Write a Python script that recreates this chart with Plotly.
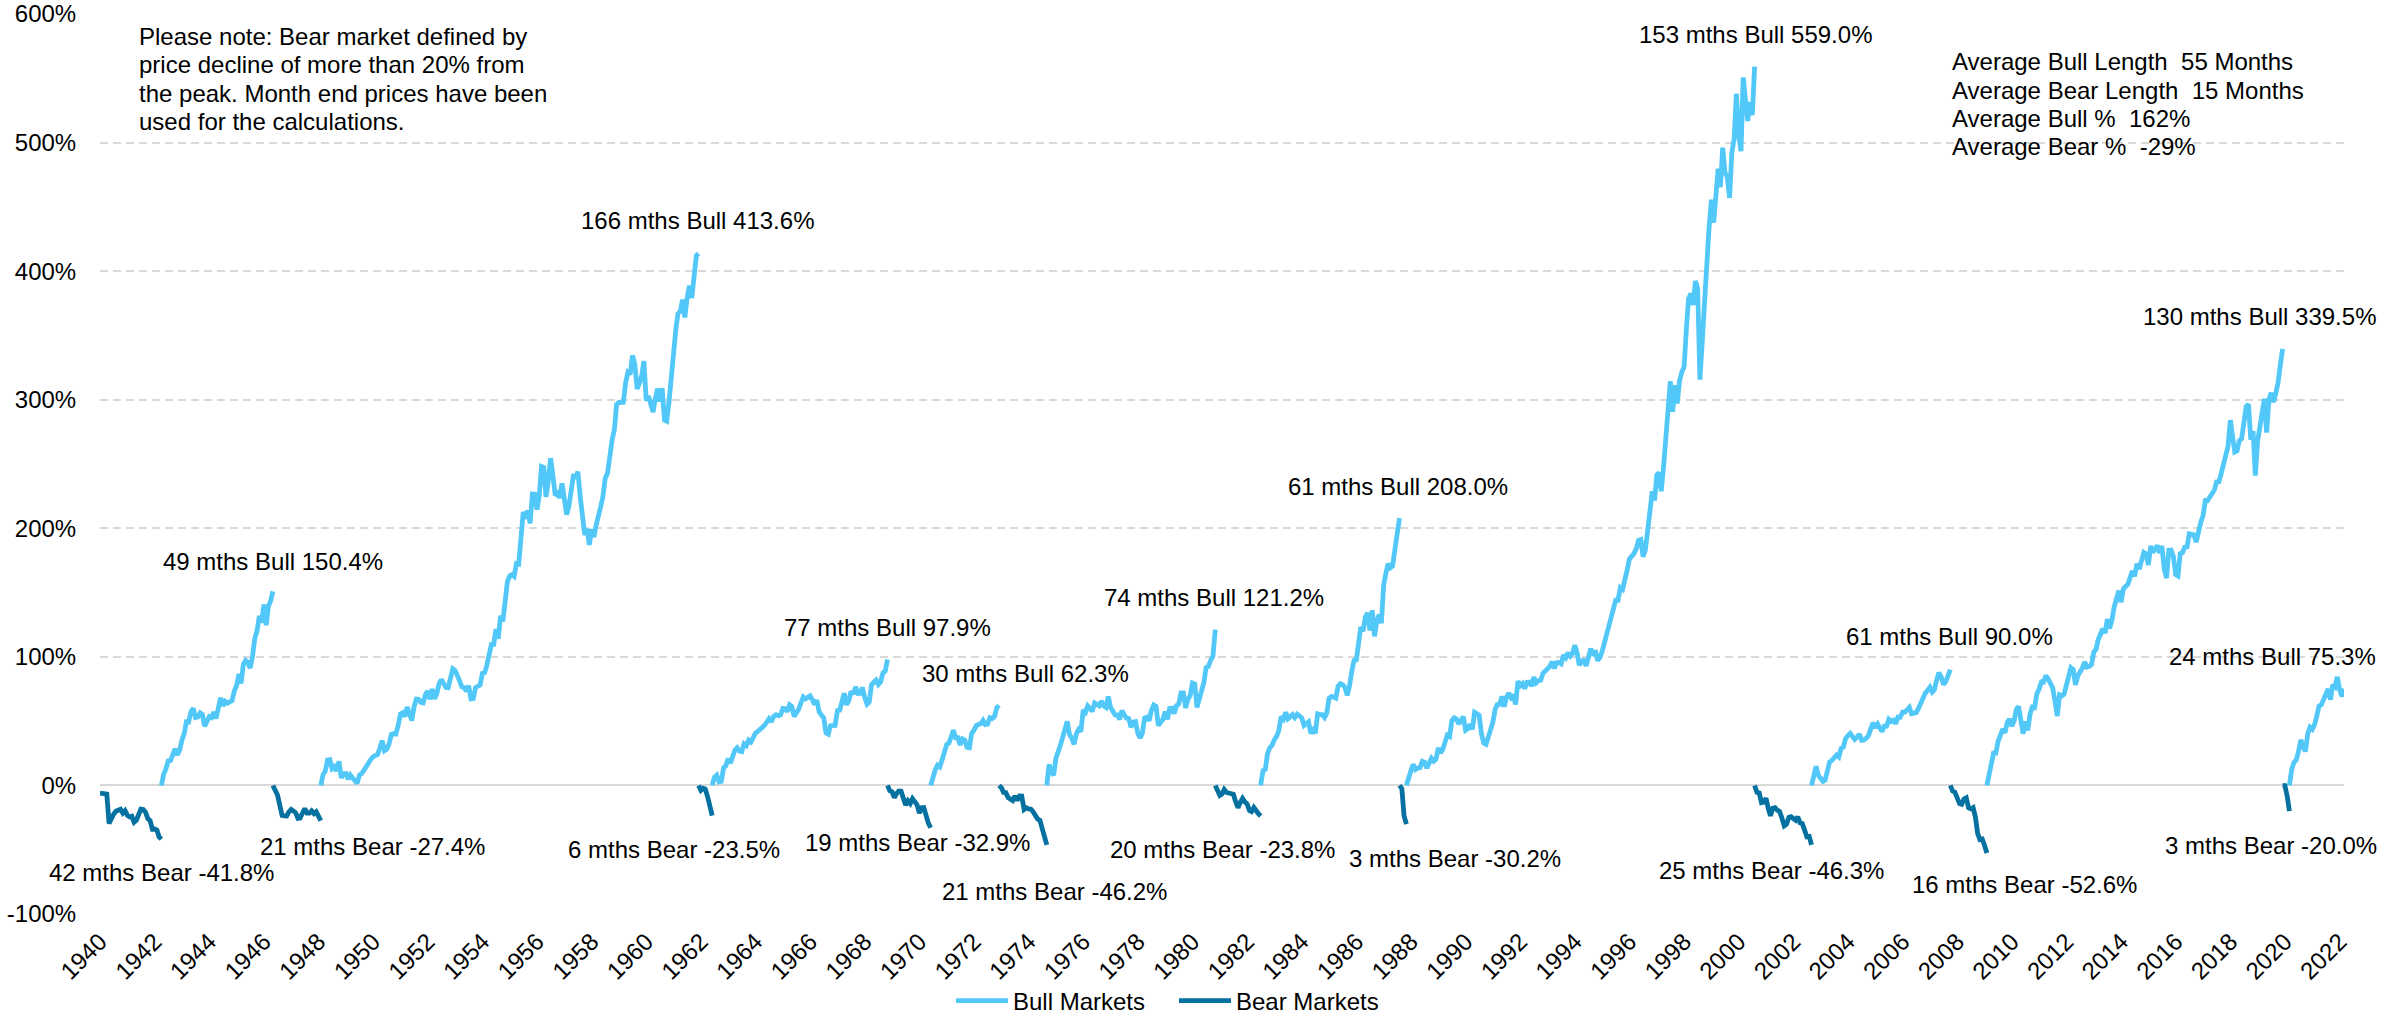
import plotly.graph_objects as go

# ---------------- DATA ----------------
# Chart begins Jan 1940 with the 1938-42 bear market already in progress (values in %)
bear_1940_start = (1940, 1)
bear_1940_pct = [-6, -6, -6.5, -6.8, -29.6, -25.2, -22.4, -20.1, -19.5, -18.5, -21.5, -19.6,
                 -23.3, -24.5, -24, -28.6, -27.1, -22.3, -18.5, -18.7, -20.9, -25.8, -27.4,
                 -34, -33.9, -34.8, -40, -41.8]

# Month-end index levels for each market phase (phase return = level / first level - 1)
bull_1942_start = (1942, 4)
bull_1942_lvl = [7.66, 8.33, 8.64, 9.12, 9.14, 9.46, 9.84, 9.47, 9.77,
                 10.36, 10.76, 11.45, 11.44, 12.05, 12.25, 11.70, 11.74, 11.98, 11.89, 11.19, 11.48,
                 11.76, 11.70, 12.03, 11.65, 12.39, 12.88, 12.40, 12.67, 12.56, 12.66, 12.71, 13.28,
                 13.60, 14.30, 13.73, 14.86, 15.10, 14.98, 14.65, 15.32, 16.41, 16.86, 17.76, 17.36,
                 18.44, 17.21, 18.31, 18.66, 19.22]

bear_1946_start = (1946, 5)
bear_1946_lvl = [19.25, 18.58, 17.83, 16.31, 14.75, 14.69, 14.66, 15.30, 15.66, 15.41, 15.17,
                 14.33, 14.37, 15.12, 15.77, 15.11, 15.11, 15.45, 15.03, 15.30, 14.69, 13.98]

bull_1948_start = (1948, 2)
bull_1948_lvl = [13.93, 15.08, 15.48, 16.69, 16.74, 15.75, 15.97, 15.49, 16.54, 14.75, 15.20,
                 15.22, 14.62, 15.06, 14.74, 14.33, 14.16, 15.04, 15.22, 15.58, 16.04, 16.36, 16.76,
                 17.05, 17.22, 17.29, 17.96, 18.78, 17.69, 17.84, 18.42, 19.45, 19.53, 19.51, 20.41,
                 21.66, 21.80, 21.40, 22.43, 21.52, 20.96, 22.40, 23.28, 23.26, 22.94, 22.88, 23.77,
                 24.14, 23.26, 24.37, 23.32, 23.86, 24.96, 25.40, 25.03, 24.54, 24.52, 25.66, 26.57,
                 26.38, 25.90, 25.29, 24.62, 24.54, 24.14, 24.75, 23.32, 23.35, 24.54, 24.76, 24.81,
                 26.08, 26.15, 26.94, 28.26, 29.19, 29.21, 30.88, 29.83, 32.31, 31.68, 34.24, 35.98,
                 36.63, 36.76, 36.58, 37.96, 37.91, 41.03, 43.52, 43.18, 43.67, 42.34, 45.51, 45.48,
                 43.82, 45.34, 48.48, 48.38, 45.20, 46.97, 49.39, 47.51, 45.35, 45.58, 45.08, 46.67,
                 44.72, 43.26, 44.11, 45.74, 47.43, 47.37, 47.91, 45.22, 42.42, 41.06, 41.72, 39.99,
                 41.70, 40.84, 42.10, 43.44, 44.09, 45.24, 47.19, 47.75, 50.06, 51.33, 52.48, 55.21,
                 55.42, 55.41, 55.44, 57.59, 58.68, 58.47, 60.51, 59.60, 56.88, 57.52, 58.28, 59.89,
                 55.61, 56.12, 55.34, 54.37, 55.83, 56.92, 55.51, 56.96, 53.52, 53.39, 55.54, 58.11,
                 61.78, 63.44, 65.06, 65.31, 66.56, 64.64, 66.76, 68.07, 66.73, 68.62, 71.32, 71.55]

bear_1961_start = (1961, 12)
bear_1961_lvl = [71.55, 68.84, 69.96, 69.55, 65.24, 59.63, 54.75]

bull_1962_start = (1962, 6)
bull_1962_lvl = [54.75, 58.23, 59.12, 56.27, 56.52, 62.26, 63.10,
                 66.20, 64.29, 66.57, 69.80, 70.80, 69.37, 69.13, 72.50, 71.70, 74.01, 73.23, 75.02,
                 77.04, 77.80, 78.98, 79.46, 80.37, 81.69, 83.18, 81.83, 84.18, 84.86, 84.42, 84.75,
                 87.56, 87.43, 86.16, 89.11, 88.42, 84.12, 85.25, 87.17, 89.96, 92.42, 91.61, 92.43,
                 92.88, 91.22, 89.23, 91.06, 86.13, 84.74, 83.60, 77.10, 76.56, 80.20, 80.45, 80.33,
                 86.61, 86.78, 90.20, 94.01, 89.08, 90.64, 94.75, 93.64, 96.71, 93.90, 94.00, 96.47,
                 92.24, 89.36, 90.20, 97.59, 98.68, 99.58, 97.74, 98.86, 102.67, 103.41, 108.37]

bear_1968_start = (1968, 11)
bear_1968_lvl = [108.37, 103.86, 103.01, 98.13, 101.51, 103.69, 103.46, 97.71, 91.83, 95.51,
                 93.12, 97.24, 93.81, 92.06, 85.02, 89.50, 89.63, 81.52, 76.55, 72.72]

bull_1970_start = (1970, 6)
bull_1970_lvl = [72.72, 78.05, 81.52, 84.21, 83.25, 87.20, 92.15, 95.88, 96.75, 100.31, 103.95,
                 99.63, 99.70, 95.58, 99.03, 98.34, 94.23, 93.99, 102.09, 103.94, 106.57, 107.20,
                 107.67, 109.53, 107.14, 107.39, 111.09, 110.55, 111.58, 116.67, 118.05]

bear_1972_start = (1972, 12)
bear_1972_lvl = [118.05, 116.03, 111.68, 111.52, 106.97, 104.95, 104.26, 108.22, 104.25, 108.43,
                 108.29, 95.96, 97.55, 96.57, 96.22, 93.98, 90.31, 87.28, 86.00, 79.31, 72.15, 63.54]

bull_1974_start = (1974, 9)
bull_1974_lvl = [63.54, 73.90, 69.97, 68.56,
                 76.98, 81.59, 83.36, 87.30, 91.15, 95.19, 88.75, 86.88, 83.87, 89.04, 91.24, 90.19,
                 100.86, 99.71, 102.77, 101.64, 100.18, 104.28, 103.44, 102.91, 105.24, 102.90, 102.10, 107.46,
                 102.03, 99.82, 98.42, 98.44, 96.12, 100.48, 98.85, 96.77, 96.53, 92.34, 94.83, 95.10,
                 89.25, 87.04, 89.21, 96.83, 97.24, 95.53, 100.68, 103.29, 102.54, 93.15, 94.70, 96.11,
                 99.93, 96.28, 101.59, 101.76, 99.08, 102.91, 103.81, 109.32, 109.32, 101.82, 106.16, 107.94,
                 114.16, 113.66, 102.09, 106.29, 111.24, 114.24, 121.67, 122.38, 125.46, 127.47, 140.52]

bear_1980_start = (1980, 11)
bear_1980_lvl = [140.52, 135.76, 129.55, 131.27, 136.00, 132.81, 132.59, 131.21, 130.92, 122.79,
                 116.18, 121.89, 126.35, 122.55, 120.40, 113.11, 111.96, 116.44, 111.88, 109.61, 107.09]

bull_1982_start = (1982, 7)
bull_1982_lvl = [107.09, 119.51, 120.42, 133.71, 138.54, 140.64,
                 145.30, 148.06, 152.96, 164.42, 162.39, 168.11, 162.56, 164.40, 166.07, 163.55, 166.40, 164.93,
                 163.41, 157.06, 159.18, 160.05, 150.55, 153.18, 150.66, 166.68, 166.10, 166.09, 163.58, 167.24,
                 179.63, 181.18, 180.66, 179.83, 189.55, 191.85, 190.92, 188.63, 182.08, 189.82, 202.17, 211.28,
                 211.78, 226.92, 238.90, 235.52, 247.35, 250.84, 236.12, 252.93, 231.32, 243.98, 249.22, 242.17,
                 274.08, 284.20, 291.70, 288.36, 290.10, 304.00, 318.66, 329.80]

bear_1987_start = (1987, 8)
bear_1987_lvl = [329.80, 321.83, 251.79, 230.30]

bull_1987_start = (1987, 11)
bull_1987_lvl = [230.30, 247.08,
                 257.07, 267.82, 258.89, 261.33, 262.16, 273.50, 272.02, 261.52, 271.91, 278.97, 273.70, 277.72,
                 297.47, 288.86, 294.87, 309.64, 320.52, 317.98, 346.08, 351.45, 349.15, 340.36, 345.99, 353.40,
                 329.08, 331.89, 339.94, 330.80, 361.23, 358.02, 356.15, 322.56, 306.05, 304.00, 322.22, 330.22,
                 343.93, 367.07, 375.22, 375.35, 389.83, 371.16, 387.81, 395.43, 387.86, 392.46, 375.22, 417.09,
                 408.79, 412.70, 403.69, 414.95, 415.35, 408.14, 424.21, 414.03, 417.80, 418.68, 431.35, 435.71,
                 438.78, 443.38, 451.67, 440.19, 450.19, 450.53, 448.13, 463.56, 458.93, 467.83, 461.79, 466.45,
                 481.61, 467.14, 445.77, 450.91, 456.50, 444.27, 458.26, 475.49, 462.69, 472.35, 453.69, 459.27,
                 470.42, 487.39, 500.71, 514.71, 533.40, 544.75, 562.06, 561.88, 584.41, 581.50, 605.37, 615.93,
                 636.02, 640.43, 645.50, 654.17, 669.12, 670.63, 639.95, 651.99, 687.31, 705.27, 757.02, 740.74,
                 786.16, 790.82, 757.12, 801.34, 848.28, 885.14, 954.29, 899.47, 947.28, 914.62, 955.40, 970.43,
                 980.28, 1049.34, 1101.75, 1111.75, 1090.82, 1133.84, 1120.67, 957.28, 1017.01, 1098.67, 1163.63, 1229.23,
                 1279.64, 1238.33, 1286.37, 1335.18, 1301.84, 1372.71, 1328.72, 1320.41, 1282.71, 1362.93, 1388.91, 1469.25,
                 1394.46, 1366.42, 1498.58, 1452.43, 1420.60, 1454.60, 1430.83, 1517.68]

bear_2000_start = (2000, 8)
bear_2000_lvl = [1517.68, 1436.51, 1429.40, 1314.95, 1320.28,
                 1366.01, 1239.94, 1160.33, 1249.46, 1255.82, 1224.42, 1211.23, 1133.58, 1040.94, 1059.78, 1139.45, 1148.08,
                 1130.20, 1106.73, 1147.39, 1076.92, 1067.14, 989.82, 911.62, 916.07, 815.28]

bull_2002_start = (2002, 9)
bull_2002_lvl = [815.28, 885.76, 936.31, 879.82,
                 855.70, 841.15, 848.18, 916.92, 963.59, 974.50, 990.31, 1008.01, 995.97, 1050.71, 1058.20, 1111.92,
                 1131.13, 1144.94, 1126.21, 1107.30, 1120.68, 1140.84, 1101.72, 1104.24, 1114.58, 1130.20, 1173.82, 1211.92,
                 1181.27, 1203.60, 1180.59, 1156.85, 1191.50, 1191.33, 1234.18, 1220.33, 1228.81, 1207.01, 1249.48, 1248.29,
                 1280.08, 1280.66, 1294.83, 1310.61, 1270.09, 1270.20, 1276.66, 1303.82, 1335.85, 1377.94, 1400.63, 1418.30,
                 1438.24, 1406.82, 1420.86, 1482.37, 1530.62, 1503.35, 1455.27, 1473.99, 1526.75, 1549.38]

bear_2007_start = (2007, 10)
bear_2007_lvl = [1549.38, 1481.14, 1468.36, 1378.55, 1330.63, 1322.70, 1385.59, 1400.38, 1280.00,
                 1267.38, 1282.83, 1166.36, 968.75, 896.24, 903.25, 825.88, 735.09]

bull_2009_start = (2009, 2)
bull_2009_lvl = [735.09, 797.87, 872.81, 919.14, 919.32, 987.48, 1020.62, 1057.08, 1036.19, 1095.63, 1115.10,
                 1073.87, 1104.49, 1169.43, 1186.69, 1089.41, 1030.71, 1101.60, 1049.33, 1141.20, 1183.26, 1180.55, 1257.64,
                 1286.12, 1327.22, 1325.83, 1363.61, 1345.20, 1320.64, 1292.28, 1218.89, 1131.42, 1253.30, 1246.96, 1257.60,
                 1312.41, 1365.68, 1408.47, 1397.91, 1310.33, 1362.16, 1379.32, 1406.58, 1440.67, 1412.16, 1416.18, 1426.19,
                 1498.11, 1514.68, 1569.19, 1597.57, 1630.74, 1606.28, 1685.73, 1632.97, 1681.55, 1756.54, 1805.81, 1848.36,
                 1782.59, 1859.45, 1872.34, 1883.95, 1923.57, 1960.23, 1930.67, 2003.37, 1972.29, 2018.05, 2067.56, 2058.90,
                 1994.99, 2104.50, 2067.89, 2085.51, 2107.39, 2063.11, 2103.84, 1972.18, 1920.03, 2079.36, 2080.41, 2043.94,
                 1940.24, 1932.23, 2059.74, 2065.30, 2096.95, 2098.86, 2173.60, 2170.95, 2168.27, 2126.15, 2198.81, 2238.83,
                 2278.87, 2363.64, 2362.72, 2384.20, 2411.80, 2423.41, 2470.30, 2471.65, 2519.36, 2575.26, 2647.58, 2673.61,
                 2823.81, 2713.83, 2640.87, 2648.05, 2705.27, 2718.37, 2816.29, 2901.52, 2913.98, 2711.74, 2760.17, 2506.85,
                 2704.10, 2784.49, 2834.40, 2945.83, 2752.06, 2941.76, 2980.38, 2926.46, 2976.74, 3037.56, 3140.98, 3230.78]

bear_2019_start = (2019, 12)
bear_2019_lvl = [3230.78, 3225.52, 2954.22, 2584.59]

bull_2020_start = (2020, 3)
bull_2020_lvl = [2584.59, 2912.43, 3044.31, 3100.29, 3271.12, 3500.31, 3363.00, 3269.96, 3621.63, 3756.07,
                 3714.24, 3811.15, 3972.89, 4181.17, 4204.11, 4297.50, 4395.26, 4522.68, 4307.54, 4605.38, 4567.00, 4766.18,
                 4515.55, 4373.94, 4530.41]

# Label texts (length in months and % move) for each phase, in chronological order
bull_months = [49, 166, 77, 30, 74, 61, 153, 61, 130, 24]
bull_moves = [150.4, 413.6, 97.9, 62.3, 121.2, 208.0, 559.0, 90.0, 339.5, 75.3]
bear_months = [42, 21, 6, 19, 21, 20, 3, 25, 16, 3]
bear_moves = [-41.8, -27.4, -23.5, -32.9, -46.2, -23.8, -30.2, -46.3, -52.6, -20.0]

note_lines = ["Please note: Bear market defined by",
              "price decline of more than 20% from",
              "the peak. Month end prices have been",
              "used for the calculations."]
avg_lines = ["Average Bull Length\u00a0 55 Months",
             "Average Bear Length\u00a0 15 Months",
             "Average Bull %\u00a0 162%",
             "Average Bear %\u00a0 -29%"]

y_ticks = [-100, 0, 100, 200, 300, 400, 500, 600]
y_ticktext = ["-100%", "0%", "100%", "200%", "300%", "400%", "500%", "600%"]

# ---------------- STYLE ----------------
W, H = 2397, 1014
ML, MR, MT, MB = 100, 53, 14, 100
BULL_COLOR = "#52C8F9"
BEAR_COLOR = "#0571A0"
FONT = "Liberation Sans, Arial, sans-serif"
FS = 24

def month_dates(start, n):
    y, m = start
    out = []
    for i in range(n):
        k = m - 1 + i
        out.append(f"{y + k // 12:04d}-{k % 12 + 1:02d}-01")
    return out

def pct(lvl):
    return [(v / lvl[0] - 1) * 100 for v in lvl]

bull_segments = [
    (bull_1942_start, pct(bull_1942_lvl)),
    (bull_1948_start, pct(bull_1948_lvl)),
    (bull_1962_start, pct(bull_1962_lvl)),
    (bull_1970_start, pct(bull_1970_lvl)),
    (bull_1974_start, pct(bull_1974_lvl)),
    (bull_1982_start, pct(bull_1982_lvl)),
    (bull_1987_start, pct(bull_1987_lvl)),
    (bull_2002_start, pct(bull_2002_lvl)),
    (bull_2009_start, pct(bull_2009_lvl)),
    (bull_2020_start, pct(bull_2020_lvl)),
]
bear_segments = [
    (bear_1940_start, bear_1940_pct),
    (bear_1946_start, pct(bear_1946_lvl)),
    (bear_1961_start, pct(bear_1961_lvl)),
    (bear_1968_start, pct(bear_1968_lvl)),
    (bear_1972_start, pct(bear_1972_lvl)),
    (bear_1980_start, pct(bear_1980_lvl)),
    (bear_1987_start, pct(bear_1987_lvl)),
    (bear_2000_start, pct(bear_2000_lvl)),
    (bear_2007_start, pct(bear_2007_lvl)),
    (bear_2019_start, pct(bear_2019_lvl)),
]

def combine(segs):
    xs, ys, ends = [], [], []
    for start, vals in segs:
        d = month_dates(start, len(vals))
        xs += d + [None]
        ys += list(vals) + [None]
        ends.append(d[-1])
    return xs, ys, ends

bx, by, bull_ends = combine(bull_segments)
rx, ry, bear_ends = combine(bear_segments)

fig = go.Figure()
fig.add_trace(go.Scatter(x=bx, y=by, mode="lines", name="Bull Markets",
                         line=dict(color=BULL_COLOR, width=4.8), connectgaps=False,
                         hoverinfo="skip"))
fig.add_trace(go.Scatter(x=rx, y=ry, mode="lines", name="Bear Markets",
                         line=dict(color=BEAR_COLOR, width=4.8), connectgaps=False,
                         hoverinfo="skip"))

# label offsets (pixels) from each phase end point
bull_shift = [(0, 31), (-1, 33), (0, 32), (26, 32), (-1, 32), (-1.5, 31.6),
              (0.6, 32.3), (-0.6, 32.8), (-22.7, 32.8), (-71.6, 31.7)]
bear_shift = [(0, -33.8), (52, -25.8), (-38.3, -33.4), (-13.6, -14.7), (8, -46.6),
              (-37.8, -33.4), (49, -33.8), (-40, -25.4), (38, -31.7), (-18.8, -34.3)]

annotations = []
for end, n, v, (dx, dy) in zip(bull_ends, bull_months, bull_moves, bull_shift):
    annotations.append(dict(x=end, y=v, xref="x", yref="y", text=f"{n} mths Bull {v:.1f}%",
                            showarrow=False, xshift=dx, yshift=dy,
                            xanchor="center", yanchor="middle",
                            font=dict(family=FONT, size=FS, color="#000000")))
for end, n, v, (dx, dy) in zip(bear_ends, bear_months, bear_moves, bear_shift):
    annotations.append(dict(x=end, y=v, xref="x", yref="y", text=f"{n} mths Bear {v:.1f}%",
                            showarrow=False, xshift=dx, yshift=dy,
                            xanchor="center", yanchor="middle",
                            font=dict(family=FONT, size=FS, color="#000000")))

plot_w = W - ML - MR
plot_h = H - MT - MB
def px2paper(xp, yp):
    return (xp - ML) / plot_w, (H - MB - yp) / plot_h

for i, line in enumerate(note_lines):
    px, py = px2paper(137, 36.4 + i * 28.5)
    annotations.append(dict(x=px, y=py, xref="paper", yref="paper", text=line,
                            showarrow=False, xanchor="left", yanchor="middle",
                            font=dict(family=FONT, size=FS, color="#000000")))
for i, line in enumerate(avg_lines):
    px, py = px2paper(1950, 61.7 + i * 28.4)
    annotations.append(dict(x=px, y=py, xref="paper", yref="paper", text=line,
                            showarrow=False, xanchor="left", yanchor="middle",
                            font=dict(family=FONT, size=FS, color="#000000")))

lgx, lgy = px2paper(951, 1001)

fig.update_layout(
    width=W, height=H,
    margin=dict(l=ML, r=MR, t=MT, b=MB, autoexpand=False),
    paper_bgcolor="white", plot_bgcolor="white",
    font=dict(family=FONT, size=FS, color="#000000"),
    showlegend=True,
    legend=dict(orientation="h", x=lgx, y=lgy, xanchor="left", yanchor="middle",
                font=dict(family=FONT, size=FS, color="#000000"),
                bgcolor="rgba(0,0,0,0)", tracegroupgap=0,
                itemwidth=52, entrywidth=156, entrywidthmode="pixels"),
    annotations=annotations,
    hovermode=False,
)
fig.update_xaxes(
    type="date",
    range=["1940-01-01", "2022-03-01"],
    tick0="1940-01-01", dtick="M24", tickformat="%Y",
    tickangle=-45,
    showgrid=False, zeroline=False, showline=False,
    ticks="outside", ticklen=3, tickcolor="rgba(0,0,0,0)",
    tickfont=dict(family=FONT, size=FS, color="#000000"),
)
fig.update_yaxes(
    range=[-100, 600],
    tickvals=y_ticks, ticktext=y_ticktext,
    showgrid=True, gridcolor="#D9D9D9", gridwidth=2, griddash="8px,5px",
    zeroline=True, zerolinecolor="#D9D9D9", zerolinewidth=2,
    showline=False,
    ticks="outside", ticklen=18, tickcolor="rgba(0,0,0,0)",
    tickfont=dict(family=FONT, size=FS, color="#000000"),
)

fig.write_html("out.html", config={"displayModeBar": False},
               post_script="document.body.style.margin='0';document.body.style.overflow='hidden';")
